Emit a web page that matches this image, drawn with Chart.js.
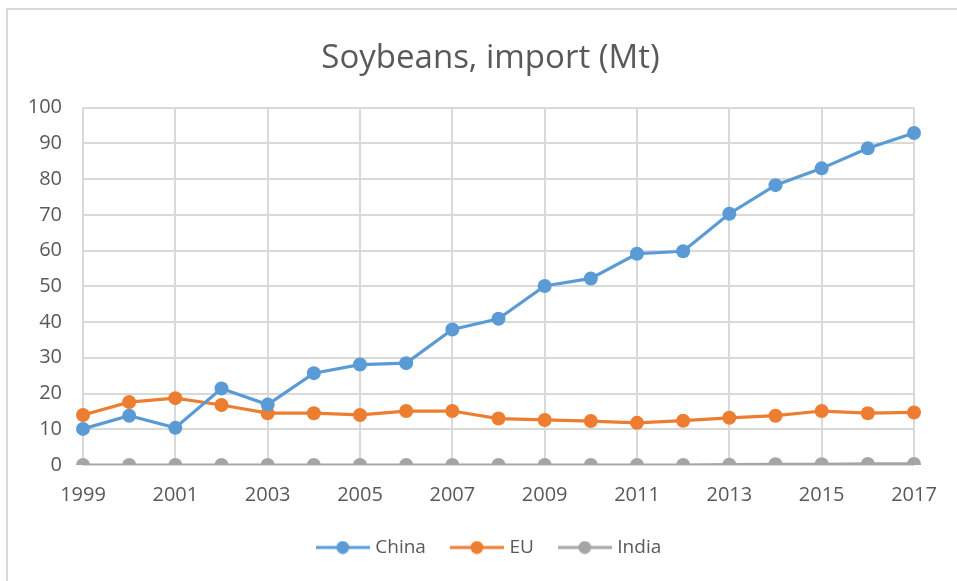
<!DOCTYPE html>
<html>
<head>
<meta charset="utf-8">
<title>Soybeans, import (Mt)</title>
<script src="https://cdn.jsdelivr.net/npm/chart.js@4.4.1/dist/chart.umd.min.js"></script>
<style>
  html, body { margin: 0; padding: 0; background: #fff; }
  #frame {
    position: absolute; left: 6px; top: 8px; width: 980px; height: 600px;
    border-left: 2px solid #d9d9d9; border-top: 2px solid #d9d9d9;
  }
  #chart { position: absolute; left: 0; top: 0; }
</style>
</head>
<body>
<div id="frame"></div>
<canvas id="chart" width="957" height="581"></canvas>
<script>
"use strict";

// Yearly soybean imports, million tonnes
const YEARS = ["1999", "2000", "2001", "2002", "2003", "2004", "2005", "2006", "2007", "2008",
               "2009", "2010", "2011", "2012", "2013", "2014", "2015", "2016", "2017"];
const CHINA = [10.1, 13.8, 10.4, 21.4, 16.9, 25.7, 28.1, 28.5, 37.9, 40.9,
               50.1, 52.2, 59.1, 59.8, 70.3, 78.3, 83.0, 88.6, 92.9];
const EU    = [14.0, 17.6, 18.7, 16.8, 14.5, 14.5, 14.0, 15.1, 15.1, 13.0,
               12.6, 12.3, 11.8, 12.4, 13.2, 13.8, 15.1, 14.5, 14.7];
const INDIA = [0.0, 0.0, 0.0, 0.0, 0.0, 0.0, 0.0, 0.0, 0.0, 0.0,
               0.0, 0.0, 0.0, 0.0, 0.1, 0.2, 0.2, 0.3, 0.3];
const Y_MIN = 0, Y_MAX = 100, Y_STEP = 10;

const COLORS = { China: "#5b9bd5", EU: "#ed7d31", India: "#a5a5a5" };
const TEXT = "#595959";
const GRID = "#d9d9d9";
const FONT = "'Open Sans', 'Noto Sans', sans-serif";

// legend marker: short line with a dot in the middle
function legendMarker(color) {
  const c = document.createElement("canvas");
  c.width = 54; c.height = 14;
  const g = c.getContext("2d");
  g.strokeStyle = color;
  g.lineWidth = 3;
  g.beginPath(); g.moveTo(0, 7); g.lineTo(54, 7); g.stroke();
  g.fillStyle = color;
  g.beginPath(); g.arc(27, 7, 6.5, 0, Math.PI * 2); g.fill();
  return c;
}

function series(label, data) {
  return {
    label,
    data,
    yAxisID: "y",
    borderColor: COLORS[label],
    backgroundColor: COLORS[label],
    borderWidth: 3.2,
    pointRadius: 7,
    pointHoverRadius: 7,
    pointBorderWidth: 0,
    pointStyle: "circle",
    tension: 0
  };
}

const ctx = document.getElementById("chart").getContext("2d");
new Chart(ctx, {
  type: "line",
  data: {
    labels: YEARS,
    datasets: [series("China", CHINA), series("EU", EU), series("India", INDIA)]
  },
  options: {
    responsive: false,
    animation: false,
    events: [],
    layout: { padding: { left: 24, right: 0, top: 0, bottom: 14 } },
    plugins: {
      title: {
        display: true,
        text: "Soybeans, import (Mt)",
        color: TEXT,
        font: { family: FONT, size: 33, weight: "normal" },
        padding: { top: 39, bottom: 29 }
      },
      legend: {
        position: "bottom",
        labels: {
          color: TEXT,
          font: { family: FONT, size: 19 },
          usePointStyle: true,
          pointStyleWidth: 46,
          padding: 28,
          generateLabels: chart => chart.data.datasets.map((ds, i) => ({
            text: ds.label,
            pointStyle: legendMarker(ds.borderColor),
            fontColor: TEXT,
            lineWidth: 0,
            strokeStyle: "transparent",
            fillStyle: "transparent",
            datasetIndex: i
          }))
        }
      },
      tooltip: { enabled: false }
    },
    scales: {
      x: {
        grid: {
          color: c => (c.index % 2 === 0 ? GRID : "transparent"),
          lineWidth: 2,
          drawTicks: false
        },
        border: { display: false },
        ticks: {
          autoSkip: false,
          maxRotation: 0,
          padding: 18,
          color: TEXT,
          font: { family: FONT, size: 20 },
          callback: function (v, i) { return i % 2 === 0 ? this.getLabelForValue(v) : ""; }
        },
        afterFit: scale => { scale.height -= 15; }
      },
      y: {
        min: Y_MIN,
        max: Y_MAX,
        grid: { color: GRID, lineWidth: 2, drawTicks: false },
        border: { display: false },
        ticks: {
          stepSize: Y_STEP,
          padding: 21,
          color: TEXT,
          font: { family: FONT, size: 20 }
        },
        afterFit: scale => { scale.width = 59; }
      },
      // empty right-hand gutter so the plot ends where the last year sits
      gutter: {
        type: "linear",
        position: "right",
        grid: { display: false },
        border: { display: false },
        ticks: { display: false },
        afterFit: scale => { scale.width = 43; }
      }
    }
  }
});
</script>
</body>
</html>
